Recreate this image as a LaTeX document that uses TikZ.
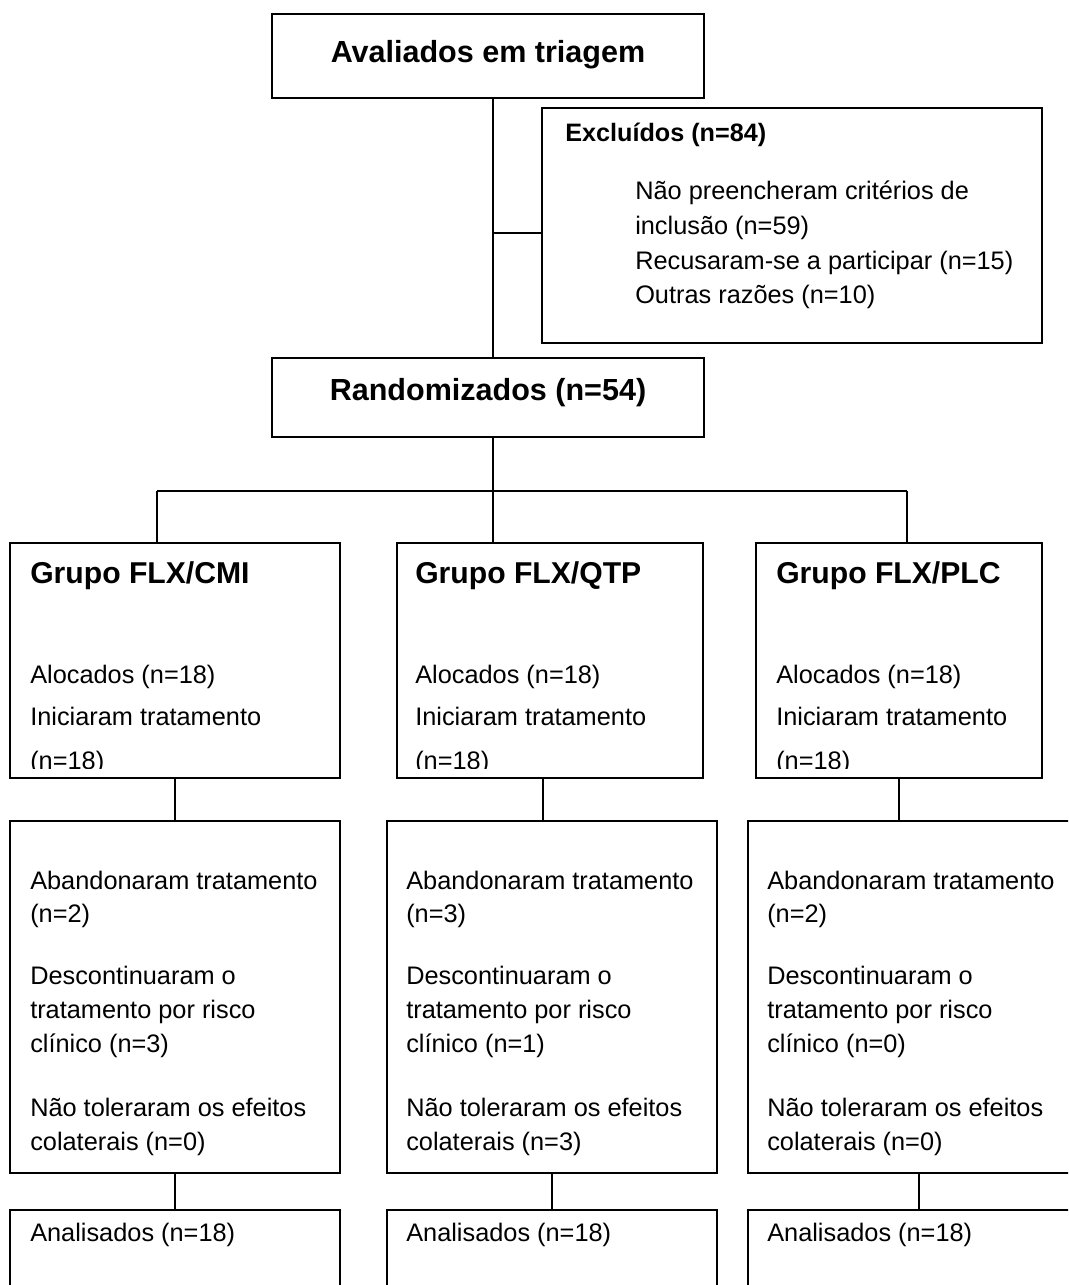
\documentclass[tikz,border=0pt]{standalone}
\usepackage{fontspec}
\setmainfont{Liberation Sans}
\begin{document}
\begin{tikzpicture}[x=0.75pt,y=-0.75pt,
  box/.style={draw, line width=1.3pt, inner sep=0pt, outer sep=0pt, anchor=north west},
  conn/.style={line width=1.2pt},
  txt/.style={inner sep=0pt, anchor=base west, font=\fontsize{19}{22}\selectfont},
  hd/.style={inner sep=0pt, anchor=base west, font=\fontsize{22.6}{27}\selectfont\bfseries},
  hdc/.style={inner sep=0pt, anchor=base, font=\fontsize{22.9}{27}\selectfont\bfseries},
  sub/.style={inner sep=0pt, anchor=base west, font=\fontsize{18.9}{22}\selectfont\bfseries}]
\useasboundingbox (0,0) rectangle (1068,1285);
\clip (0,0) rectangle (1068,1285);
\fill[white] (0,0) rectangle (1068,1285);
% boxes
\node[box, minimum width=324pt, minimum height=63pt] (top) at (272,14) {};
\node[box, minimum width=375pt, minimum height=176.25pt] (excl) at (542,108) {};
\node[box, minimum width=324pt, minimum height=59.25pt] (rand) at (272,358) {};
\node[box, minimum width=247.5pt, minimum height=176.25pt] (g1) at (10,543) {};
\node[box, minimum width=229.5pt, minimum height=176.25pt] (g2) at (397,543) {};
\node[box, minimum width=214.5pt, minimum height=176.25pt] (g3) at (756,543) {};
\node[box, minimum width=247.5pt, minimum height=264pt] (m1) at (10,821) {};
\node[box, minimum width=247.5pt, minimum height=264pt] (m2) at (387,821) {};
\node[box, minimum width=247.5pt, minimum height=264pt] (m3) at (748,821) {};
\node[box, minimum width=247.5pt, minimum height=75pt] (b1) at (10,1210) {};
\node[box, minimum width=247.5pt, minimum height=75pt] (b2) at (387,1210) {};
\node[box, minimum width=247.5pt, minimum height=75pt] (b3) at (748,1210) {};
% junction coordinates
\coordinate (t1) at (493,233);
\coordinate (br) at (493,491);
\coordinate (d1) at (157,491);
\coordinate (d3) at (907,491);
\coordinate (c2) at (543,800);
\coordinate (e3) at (919,1190);
% connectors
\draw[conn] (top.south -| t1) -- (rand.north -| t1);
\draw[conn] (t1) -- (t1 -| excl.west);
\draw[conn] (rand.south -| br) -- (br);
\draw[conn] (d1) -- (d3);
\draw[conn] (d1) -- (d1 |- g1.north);
\draw[conn] (br) -- (br |- g2.north);
\draw[conn] (d3) -- (d3 |- g3.north);
\draw[conn] (g1.south) -- (m1.north);
\draw[conn] (g2.south -| c2) -- (m2.north -| c2);
\draw[conn] (g3.south) -- (g3.south |- m3.north);
\draw[conn] (m1.south) -- (b1.north);
\draw[conn] (m2.south) -- (b2.north);
\draw[conn] (m3.south -| e3) -- (b3.north -| e3);
% texts
\node[hdc] (ttop) at (488,62) {Avaliados em triagem};
\node[hdc] (trand) at (488,400) {Randomizados (n=54)};
\node[sub] (tex) at (565,141) {Excluídos (n=84)};
\node[txt] (tex1) at (635,199) {Não preencheram critérios de};
\node[txt] (tex2) at (635,234) {inclusão (n=59)};
\node[txt] (tex3) at (635,269) {Recusaram-se a participar (n=15)};
\node[txt] (tex4) at (635,303) {Outras razões (n=10)};
\foreach \gx/\gn/\gt in {30/g1/CMI, 415/g2/QTP, 776/g3/PLC}{
  \begin{scope}
    \clip (\gn.north west) rectangle ([yshift=7pt]\gn.south east);
    \node[hd] (h\gn) at (\gx,583) {Grupo FLX/\gt};
    \node[txt] (a\gn) at (\gx,683) {Alocados (n=18)};
    \node[txt] (i\gn) at (\gx,725) {Iniciaram tratamento};
    \node[txt] (n\gn) at (\gx,769) {(n=18)};
  \end{scope}
}
\foreach \mx/\mn/\ab/\dc/\nt in {30/m1/2/3/0, 406/m2/3/1/3, 767/m3/2/0/0}{
  \node[txt] (ab\mn) at (\mx,889) {Abandonaram tratamento};
  \node[txt] (abn\mn) at (\mx,922) {(n=\ab)};
  \node[txt] (dc\mn) at (\mx,984) {Descontinuaram o};
  \node[txt] (dcb\mn) at (\mx,1018) {tratamento por risco};
  \node[txt] (dcn\mn) at (\mx,1052) {clínico (n=\dc)};
  \node[txt] (nt\mn) at (\mx,1116) {Não toleraram os efeitos};
  \node[txt] (ntn\mn) at (\mx,1150) {colaterais (n=\nt)};
}
\foreach \bx/\bn in {30/b1, 406/b2, 767/b3}{
  \node[txt] (an\bn) at (\bx,1241) {Analisados (n=18)};
}
\end{tikzpicture}
\end{document}
